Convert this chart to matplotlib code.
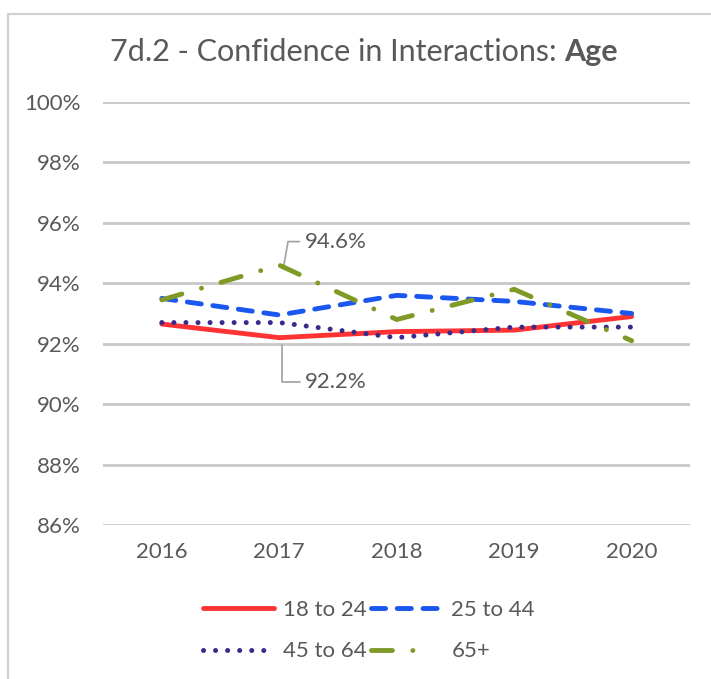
import matplotlib.pyplot as plt
from matplotlib.patches import Rectangle

# Données
years = ["2016", "2017", "2018", "2019", "2020"]
age_18_24 = [92.65, 92.2, 92.4, 92.45, 92.9]
age_25_44 = [93.5, 92.95, 93.6, 93.4, 93.0]
age_45_64 = [92.7, 92.7, 92.2, 92.55, 92.55]
age_65_plus = [93.45, 94.6, 92.8, 93.8, 92.1]

labels = ["18 to 24", "25 to 44", "45 to 64", "65+"]
yticks = [86, 88, 90, 92, 94, 96, 98, 100]

plt.rcParams['font.family'] = ['Lato', 'DejaVu Sans']
grey = '#595959'

fig = plt.figure(figsize=(7.11, 6.79), dpi=100)
ax = fig.add_axes([0.145, 0.2268, 0.826, 0.623])

x = range(len(years))
l1, = ax.plot(x, age_18_24, color='#FF3333', linewidth=3.5, solid_capstyle='round',
              label=labels[0], zorder=3)
l2, = ax.plot(x, age_25_44, color='#1A56F0', linewidth=3.5, dashes=(2.9, 2.4),
              dash_capstyle='round', label=labels[1], zorder=4)
l3, = ax.plot(x, age_45_64, color='#3B2A8C', linewidth=3.6, dashes=(0.01, 2.4),
              dash_capstyle='round', label=labels[2], zorder=5)
l4, = ax.plot(x, age_65_plus, color='#7F9A26', linewidth=3.5, dashes=(4.3, 4.2, 0.01, 4.2),
              dash_capstyle='round', label=labels[3], zorder=6)

ax.set_xlim(-0.5, len(years) - 0.5)
ax.set_ylim(86, 100)
ax.set_yticks(yticks)
ax.set_yticklabels([f"{v}%" for v in yticks])
ax.set_xticks(list(x))
ax.set_xticklabels(years)
ax.tick_params(length=0, labelsize=16, colors=grey, pad=12)
ax.tick_params(axis='y', pad=16)
ax.grid(axis='y', color='#c8c8c8', linewidth=2)
ax.set_axisbelow(True)
for s in ax.spines.values():
    s.set_visible(False)

# Étiquettes de données avec lignes de rappel
ax.annotate("94.6%", xy=(1.03, 94.4), xytext=(1.22, 95.38), fontsize=16, color=grey,
            va='center', ha='left',
            arrowprops=dict(arrowstyle='-', color='#a0a0a0', lw=1.2,
                            connectionstyle='angle,angleA=0,angleB=80,rad=0'))
ax.annotate("92.2%", xy=(1.02, 92.05), xytext=(1.22, 90.72), fontsize=16, color=grey,
            va='center', ha='left',
            arrowprops=dict(arrowstyle='-', color='#a0a0a0', lw=1.2,
                            connectionstyle='angle,angleA=0,angleB=90,rad=0'))

# Titre en deux parties (normal + gras)
t1 = fig.text(0.155, 0.923, "7d.2 - Confidence in Interactions: ", fontsize=22,
              color=grey, va='center', ha='left')
fig.canvas.draw()
bb = t1.get_window_extent()
fig.text(bb.x1 / fig.bbox.width, 0.923, "Age", fontsize=22, fontweight='bold',
         color=grey, va='center', ha='left')

# Légende remplie ligne par ligne
leg = fig.legend([l1, l3, l2, l4], [labels[0], labels[2], labels[1], labels[3]],
                 loc='center', bbox_to_anchor=(0.519, 0.071), ncol=2, frameon=False,
                 fontsize=16, labelcolor=grey, handlelength=3.2, handletextpad=0.4,
                 columnspacing=0.2, labelspacing=0.95)
leg.get_lines()[3].set_dashes((4.3, 4.2, 0.01, 12))

# Cadre du graphique
fig.patches.append(Rectangle((8 / 711, -0.1), 1.2, 1.1 - 14 / 679,
                             transform=fig.transFigure, fill=False,
                             edgecolor='#d0d0d0', linewidth=1.5))

fig.savefig("out.png", dpi=100)
